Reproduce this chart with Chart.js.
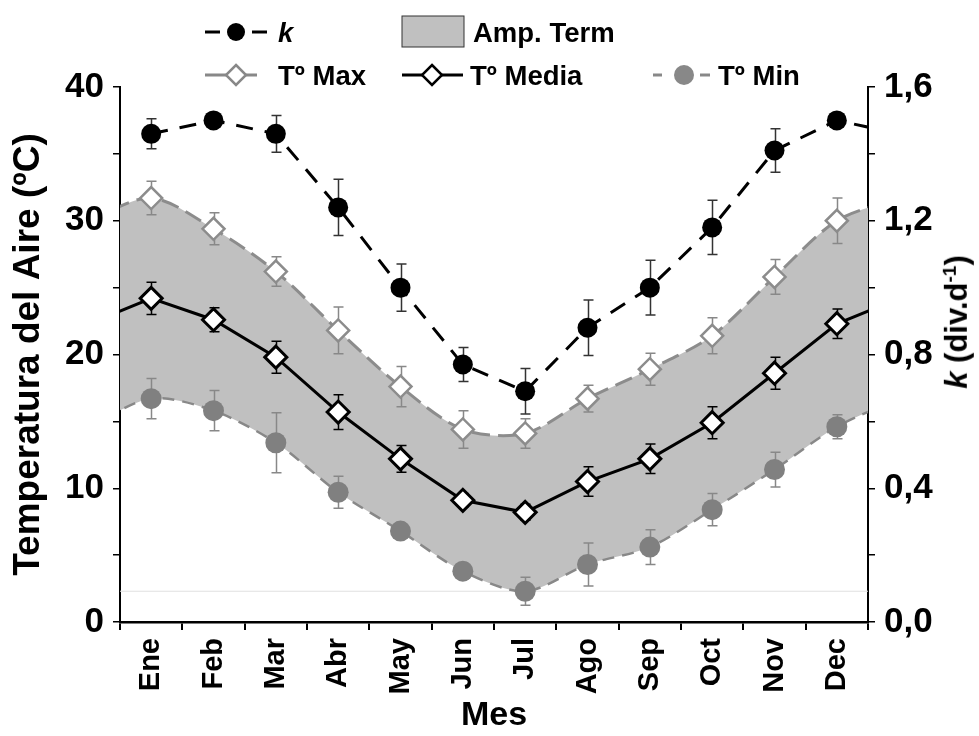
<!DOCTYPE html>
<html lang="es">
<head>
<meta charset="UTF-8">
<title>Temperatura del Aire y k</title>
<script src="https://cdn.jsdelivr.net/npm/chart.js@4.4.1/dist/chart.umd.min.js"></script>
<style>
  body { margin: 0; background: #fff; }
  #wrap { position: relative; width: 979px; height: 736px; font-family: 'Liberation Sans', Arial, sans-serif; font-weight: bold; }
  #grafico { position: absolute; left: 0; top: 0; }
  .leg { position: absolute; font-size: 27.5px; line-height: 1; transform: translateY(-50%); color: #000; white-space: nowrap; }
  .sym { position: absolute; }
  #tituloK { position: absolute; left: 957px; top: 322px; transform: translate(-50%, -50%) rotate(-90deg); font-size: 31px; white-space: nowrap; }
  #tituloK sup { font-size: 19px; }
</style>
</head>
<body>
<div id="wrap">
  <canvas id="grafico" width="979" height="736"></canvas>

  <!-- leyenda -->
  <svg class="sym" style="left:200px;top:18px" width="75" height="30">
    <line x1="5" y1="14" x2="20" y2="14" stroke="#000" stroke-width="3"/>
    <line x1="52" y1="14" x2="67" y2="14" stroke="#000" stroke-width="3"/>
    <circle cx="36" cy="14" r="9" fill="#000"/>
  </svg>
  <div class="leg" style="left:278px;top:33px"><i>k</i></div>
  <svg class="sym" style="left:401px;top:15px" width="66" height="34">
    <rect x="1" y="1" width="62" height="31" fill="#c0c0c0" stroke="#333" stroke-width="1"/>
  </svg>
  <div class="leg" style="left:473px;top:33px">Amp. Term</div>

  <svg class="sym" style="left:200px;top:60px" width="75" height="30">
    <line x1="5" y1="15" x2="57" y2="15" stroke="#888" stroke-width="3"/>
    <polygon points="36,5 46,15 36,25 26,15" fill="#fff" stroke="#888" stroke-width="2.5"/>
  </svg>
  <div class="leg" style="left:278px;top:76px">Tº Max</div>
  <svg class="sym" style="left:397px;top:60px" width="75" height="30">
    <line x1="5" y1="15" x2="66" y2="15" stroke="#000" stroke-width="3"/>
    <polygon points="35,5 45,15 35,25 25,15" fill="#fff" stroke="#000" stroke-width="2.5"/>
  </svg>
  <div class="leg" style="left:470px;top:76px">Tº Media</div>
  <svg class="sym" style="left:648px;top:60px" width="70" height="30">
    <line x1="5" y1="15" x2="14" y2="15" stroke="#888" stroke-width="3"/>
    <line x1="52" y1="15" x2="62" y2="15" stroke="#888" stroke-width="3"/>
    <circle cx="36" cy="15" r="10" fill="#888"/>
  </svg>
  <div class="leg" style="left:718px;top:76px">Tº Min</div>

  <div id="tituloK"><i>k</i> (div.d<sup>-1</sup>)</div>
</div>

<script>
  // datos
  const meses = ['Ene', 'Feb', 'Mar', 'Abr', 'May', 'Jun', 'Jul', 'Ago', 'Sep', 'Oct', 'Nov', 'Dec'];

  const tMax    = [31.7, 29.4, 26.2, 21.8, 17.6, 14.4, 14.1, 16.7, 18.9, 21.4, 25.8, 30.0];
  const tMaxErr = [1.25, 1.2, 1.1, 1.75, 1.5, 1.4, 1.1, 1.0, 1.2, 1.35, 1.3, 1.7];

  const tMedia    = [24.2, 22.6, 19.8, 15.7, 12.2, 9.1, 8.2, 10.5, 12.2, 14.9, 18.6, 22.3];
  const tMediaErr = [1.2, 0.9, 1.2, 1.3, 1.0, 0.5, 0.6, 1.1, 1.1, 1.2, 1.2, 1.1];

  const tMin    = [16.7, 15.8, 13.4, 9.7, 6.8, 3.8, 2.3, 4.3, 5.6, 8.4, 11.4, 14.6];
  const tMinErr = [1.5, 1.5, 2.25, 1.2, 0.5, 0.6, 1.05, 1.6, 1.3, 1.2, 1.3, 0.9];

  const kVal = [1.46, 1.50, 1.46, 1.24, 1.00, 0.77, 0.69, 0.88, 1.00, 1.18, 1.41, 1.50];
  const kErr = [0.045, 0.02, 0.055, 0.084, 0.071, 0.051, 0.068, 0.083, 0.082, 0.081, 0.065, 0.02];

  const lineaRef = 2.3;

  const ctx = document.querySelector('#grafico').getContext('2d');
  const fuente = "'Liberation Sans', Arial, sans-serif";

  // puntos por mes, repitiendo Dic antes de Ene y Ene despues de Dic (el ciclo anual)
  function serie(vals, antes, despues) {
    const pts = vals.map((v, i) => ({ x: i + 1, y: v }));
    if (antes) pts.unshift({ x: 0, y: vals[11] });
    if (despues) pts.push({ x: 13, y: vals[0] });
    return pts;
  }

  const barrasError = {
    id: 'barrasError',
    beforeDatasetDraw(chart, args) {
      const ds = chart.data.datasets[args.index];
      if (!ds.errores) return;
      const xs = chart.scales.x;
      const ys = chart.scales[ds.yAxisID];
      const c = chart.ctx;
      c.save();
      c.strokeStyle = ds.colorError;
      c.lineWidth = 1.5;
      ds.data.forEach(p => {
        if (p.x < 1 || p.x > 12) return;
        const e = ds.errores[p.x - 1];
        const px = Math.round(xs.getPixelForValue(p.x)) + 0.5;
        const y1 = ys.getPixelForValue(p.y + e);
        const y2 = ys.getPixelForValue(p.y - e);
        c.beginPath();
        c.moveTo(px, y1); c.lineTo(px, y2);
        c.moveTo(px - 5, y1); c.lineTo(px + 5, y1);
        c.moveTo(px - 5, y2); c.lineTo(px + 5, y2);
        c.stroke();
      });
      c.restore();
    }
  };

  new Chart(ctx, {
    type: 'line',
    data: {
      datasets: [
        {
          label: 'k',
          data: serie(kVal, false, true),
          yAxisID: 'y2',
          borderColor: '#000',
          borderWidth: 3,
          borderDash: [17, 12],
          pointRadius: 10,
          pointBackgroundColor: '#000',
          pointBorderColor: '#000',
          pointBorderWidth: 0,
          tension: 0,
          clip: 0,
          errores: kErr,
          colorError: '#333'
        },
        {
          label: 'Tº Media',
          data: serie(tMedia, true, true),
          yAxisID: 'y',
          borderColor: '#000',
          borderWidth: 3,
          pointStyle: 'rectRot',
          pointRadius: 11,
          pointBackgroundColor: '#fff',
          pointBorderColor: '#000',
          pointBorderWidth: 3,
          tension: 0,
          clip: 0,
          errores: tMediaErr,
          colorError: '#000'
        },
        {
          label: 'Tº Max',
          data: serie(tMax, true, true),
          yAxisID: 'y',
          borderColor: '#8c8c8c',
          borderWidth: 3,
          borderDash: [18, 8],
          pointStyle: 'rectRot',
          pointRadius: 11,
          pointBackgroundColor: '#fff',
          pointBorderColor: '#8c8c8c',
          pointBorderWidth: 2.5,
          tension: 0.3,
          fill: '+1',
          backgroundColor: '#c0c0c0',
          clip: 0,
          errores: tMaxErr,
          colorError: '#888'
        },
        {
          label: 'Tº Min',
          data: serie(tMin, true, true),
          yAxisID: 'y',
          borderColor: '#888',
          borderWidth: 2.5,
          borderDash: [12, 8],
          pointRadius: 10.5,
          pointBackgroundColor: '#808080',
          pointBorderColor: '#808080',
          pointBorderWidth: 0,
          tension: 0.3,
          clip: 0,
          errores: tMinErr,
          colorError: '#888'
        },
        {
          label: 'ref',
          data: [{ x: 0.5, y: lineaRef }, { x: 12.5, y: lineaRef }],
          yAxisID: 'y',
          borderColor: '#e0e0e0',
          borderWidth: 1,
          pointRadius: 0
        }
      ]
    },
    options: {
      responsive: false,
      animation: false,
      events: [],
      layout: { padding: { top: 87, left: 0, right: 0, bottom: 0 } },
      plugins: {
        legend: { display: false },
        tooltip: { enabled: false },
        filler: { drawTime: 'beforeDatasetsDraw' }
      },
      scales: {
        x: {
          type: 'linear',
          min: 0.5,
          max: 12.5,
          afterBuildTicks: s => { s.ticks = meses.map((m, i) => ({ value: i + 1 })); },
          afterFit: s => { s.height = 114; },
          ticks: {
            autoSkip: false,
            minRotation: 90,
            maxRotation: 90,
            padding: 8,
            color: '#000',
            font: { family: fuente, size: 29, weight: 'bold' },
            callback: v => meses[v - 1]
          },
          grid: { offset: true, drawOnChartArea: false, tickLength: 8, color: '#000', lineWidth: 2 },
          border: { color: '#000', width: 2.5 },
          title: { display: true, text: 'Mes', color: '#000', padding: 0, font: { family: fuente, size: 34, weight: 'bold' } }
        },
        y: {
          position: 'left',
          min: 0,
          max: 40,
          afterFit: s => { s.width = 120; },
          ticks: {
            stepSize: 5,
            padding: 9,
            color: '#000',
            font: { family: fuente, size: 35, weight: 'bold' },
            callback: v => v % 10 === 0 ? v : ''
          },
          grid: { drawOnChartArea: false, tickLength: 7, color: '#000', lineWidth: 1.5 },
          border: { color: '#000', width: 2 },
          title: { display: true, text: 'Temperatura del Aire (ºC)', color: '#000', padding: { top: 7 }, font: { family: fuente, size: 37, weight: 'bold' } }
        },
        y2: {
          position: 'right',
          min: 0,
          max: 1.6,
          afterFit: s => { s.width = 111; },
          ticks: {
            stepSize: 0.2,
            padding: 9,
            color: '#000',
            font: { family: fuente, size: 35, weight: 'bold' },
            callback: v => {
              const t = Math.round(v * 10);
              return t % 4 === 0 ? (t / 10).toFixed(1).replace('.', ',') : '';
            }
          },
          grid: { drawOnChartArea: false, tickLength: 7, color: '#000', lineWidth: 1.5 },
          border: { color: '#000', width: 2 }
        }
      }
    },
    plugins: [barrasError]
  });
</script>
</body>
</html>
